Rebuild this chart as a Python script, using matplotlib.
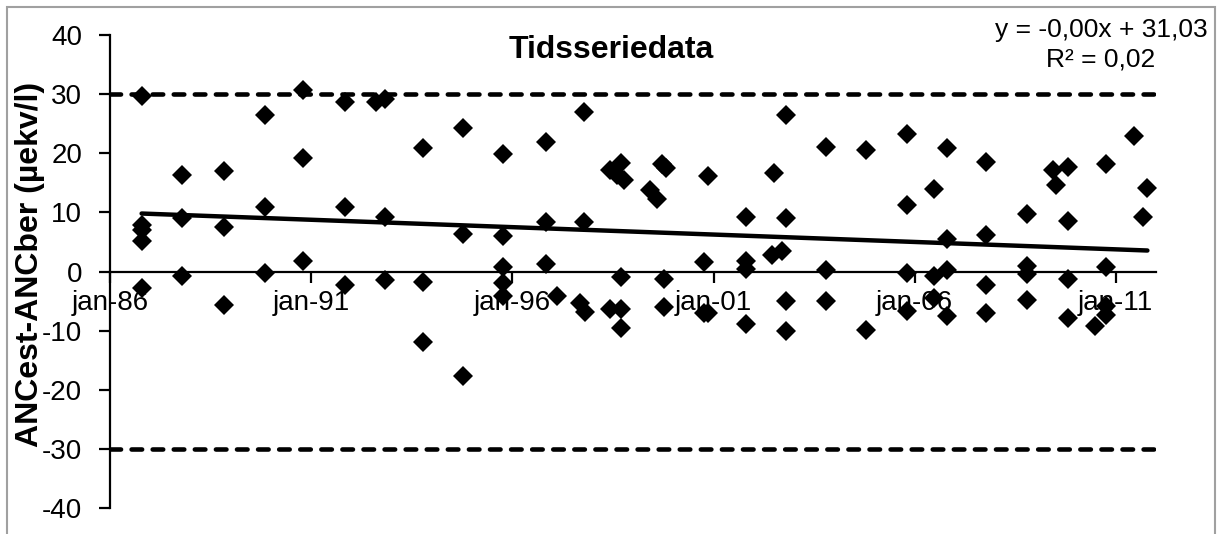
import numpy as np
import matplotlib
matplotlib.use("Agg")
from matplotlib import pyplot as plt
import matplotlib.dates as mdates
from matplotlib.patches import Rectangle
from matplotlib.ticker import FuncFormatter

plt.rcParams['font.family'] = ['Liberation Sans', 'DejaVu Sans']
plt.rcParams['axes.unicode_minus'] = False

# prøvedatoer og ANCest-ANCber (µekv/l), lest av figuren
datoer = ['1986-10-15'] * 5 + ['1987-10-15'] * 3 + ['1988-11-01'] * 3 + ['1989-11-10'] * 3 + \
    ['1990-10-15'] * 3 + ['1991-11-05'] * 3 + ['1992-08-10'] + ['1992-11-01'] * 3 + \
    ['1993-10-10'] * 3 + ['1994-10-15'] * 3 + ['1995-10-10'] * 5 + ['1996-11-01'] * 3 + \
    ['1997-02-10'] + ['1997-10-10'] * 2 + ['1997-09-10', '1997-10-25'] + \
    ['1998-06-10'] * 2 + ['1998-08-05'] + ['1998-09-10'] * 4 + ['1998-10-15'] + \
    ['1999-06-05', '1999-08-05', '1999-09-20'] + ['1999-10-05'] * 2 + ['1999-11-01'] + \
    ['2000-10-10'] * 2 + ['2000-11-10'] * 2 + ['2001-10-20'] * 4 + \
    ['2002-06-20', '2002-07-01', '2002-09-15'] + ['2002-10-20'] * 4 + \
    ['2003-10-20'] * 3 + ['2004-10-20'] * 2 + ['2005-10-25'] * 4 + ['2006-06-25'] * 3 + \
    ['2006-10-25'] * 4 + ['2007-10-15'] * 4 + ['2008-10-20'] * 4 + \
    ['2009-06-10', '2009-07-10'] + ['2009-10-20'] * 4 + ['2010-06-25'] + ['2010-10-01'] * 4 + \
    ['2011-06-15', '2011-09-01', '2011-10-15']
verdier = [29.6, 7.9, 7.0, 5.2, -2.8,
           16.4, 9.0, -0.8,
           17.0, 7.5, -5.6,
           26.4, 10.9, -0.2,
           30.7, 19.2, 1.7,
           28.6, 10.9, -2.3,
           28.7,
           29.1, 9.3, -1.5,
           20.9, -1.8, -12.0,
           24.2, 6.4, -17.7,
           19.9, 6.0, 0.7, -2.0, -4.1,
           21.9, 8.4, 1.3,
           -4.1,
           26.9, 8.4,
           -5.4, -6.8,
           17.1, -6.3,
           16.4,
           18.4, -6.4, -9.5, -0.9,
           15.4,
           13.7, 12.2, 18.1,
           -1.2, -6.0,
           17.5,
           1.6, -7.0,
           16.1, -7.0,
           9.3, 1.7, 0.5, -8.9,
           2.8, 16.7, 3.5,
           26.4, 9.1, -5.0, -10.1,
           21.0, 0.2, -5.0,
           20.5, -9.9,
           23.3, 11.3, -0.3, -6.7,
           14.0, -0.8, -4.4,
           20.9, 5.5, 0.2, -7.6,
           18.6, 6.1, -2.3, -7.0,
           9.8, 0.9, -0.4, -4.9,
           17.2, 14.6,
           17.7, 8.5, -1.2, -7.9,
           -9.2,
           18.2, 0.7, -7.3, -5.9,
           23.0, 9.2, 14.1]

grenser = [30, -30]
tick_datoer = ['1986-01-01', '1991-01-01', '1996-01-01', '2001-01-01', '2006-01-01', '2011-01-01']
x_min, x_maks = '1986-01-01', '2012-01-01'

x = np.array(datoer, dtype='datetime64[D]')
y = np.array(verdier)

fig = plt.figure(figsize=(12.17, 5.34), dpi=100)
ax = fig.add_axes([110 / 1217, 26 / 534, 1046 / 1217, 473 / 534])

ax.plot(x, y, linestyle='none', marker='D', markersize=10.5, color='black', markeredgewidth=0)

# lineær trendlinje
xn = mdates.date2num(x)
a, b = np.polyfit(xn, y, 1)
xt = np.array([xn.min(), xn.max()])
ax.plot(mdates.num2date(xt), a * xt + b, color='black', linewidth=3.2, solid_capstyle='round')

for g in grenser:
    ax.axhline(g, color='black', linewidth=3.3, linestyle=(0, (2.3, 2.3)), dash_capstyle='round')

ax.set_xlim(np.datetime64(x_min), np.datetime64(x_maks))
ax.set_ylim(-40, 40)
ax.set_yticks(range(-40, 41, 10))
ax.set_xticks(np.array(tick_datoer, dtype='datetime64[D]'))
ax.xaxis.set_major_formatter(FuncFormatter(lambda v, p: mdates.num2date(v).strftime('%b-%y').lower()))

ax.spines['bottom'].set_position(('data', 0))
ax.spines['top'].set_visible(False)
ax.spines['right'].set_visible(False)
ax.spines['bottom'].set_linewidth(1.6)
ax.spines['left'].set_linewidth(1.6)
ax.tick_params(axis='both', direction='out', length=8, width=1.6, labelsize=20)
ax.tick_params(axis='y', pad=12)
ax.tick_params(axis='x', pad=5)

fig.text(611 / 1217, 1 - 58 / 534, 'Tidsseriedata', ha='center', va='baseline',
         fontsize=23, fontweight='bold')
fig.text(30 / 1217, 1 - 264 / 534, 'ANCest-ANCber (µekv/l)', rotation=90, ha='center',
         va='center', fontsize=23, fontweight='bold')
fig.text(1101 / 1217, 1 - 37 / 534, 'y = -0,00x + 31,03', ha='center', va='baseline', fontsize=19)
fig.text(1101 / 1217, 1 - 66 / 534, 'R² = 0,02', ha='center', va='baseline', fontsize=19)

fig.patches.append(Rectangle((7 / 1217, -0.1), 1208 / 1217, 1.1 - 7 / 534, transform=fig.transFigure,
                             fill=False, edgecolor='#a0a0a0', linewidth=1.5))

fig.savefig('out.png', dpi=100)
